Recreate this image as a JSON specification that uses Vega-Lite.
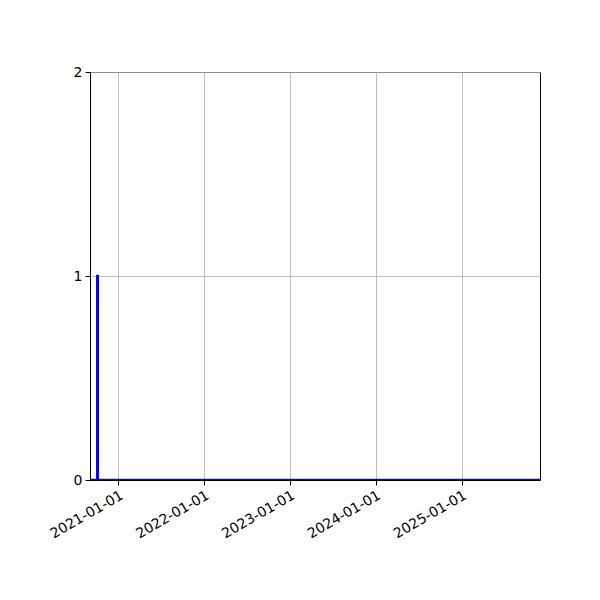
{
  "$schema": "https://vega.github.io/schema/vega-lite/v6.json",
  "width": 450,
  "height": 408,
  "autosize": {"type": "none"},
  "padding": {"left": 90, "top": 72, "right": 60, "bottom": 120},
  "background": "white",
  "config": {
    "view": {"stroke": "black", "strokeWidth": 1},
    "axis": {
      "labelFont": "DejaVu Sans",
      "labelFontSize": 14,
      "labelColor": "black",
      "domainColor": "black",
      "tickColor": "black",
      "tickSize": 5,
      "labelPadding": 3,
      "gridColor": "#b0b0b0",
      "gridWidth": 0.8,
      "title": null
    }
  },
  "datasets": {
    "series": [
      {"date": "2020-09-03", "value": 0, "order": 1},
      {"date": "2020-10-04", "value": 0, "order": 2},
      {"date": "2020-10-04", "value": 1, "order": 3},
      {"date": "2020-10-06", "value": 1, "order": 4},
      {"date": "2020-10-06", "value": 0, "order": 5},
      {"date": "2025-12-01", "value": 0, "order": 6}
    ]
  },
  "data": {"name": "series"},
  "layer": [
    {
      "mark": {"type": "line", "color": "blue", "strokeWidth": 2.5, "clip": true, "interpolate": "linear"},
      "encoding": {
        "x": {
          "field": "date",
          "type": "temporal",
          "scale": {"domain": ["2020-09-03", "2025-12-01"]},
          "axis": {
            "values": ["2021-01-01", "2022-01-01", "2023-01-01", "2024-01-01", "2025-01-01"],
            "format": "%Y-%m-%d",
            "labelAngle": -30,
            "labelAlign": "right",
            "labelBaseline": "top",
            "tickCount": 10,
            "grid": true
          }
        },
        "y": {
          "field": "value",
          "type": "quantitative",
          "scale": {"domain": [0, 2], "nice": false, "zero": true},
          "axis": {"tickCount": 10, "values": [0, 1, 2], "format": ".0f", "labelOverlap": false, "grid": true}
        },
        "order": {"field": "order"}
      }
    }
  ]
}
